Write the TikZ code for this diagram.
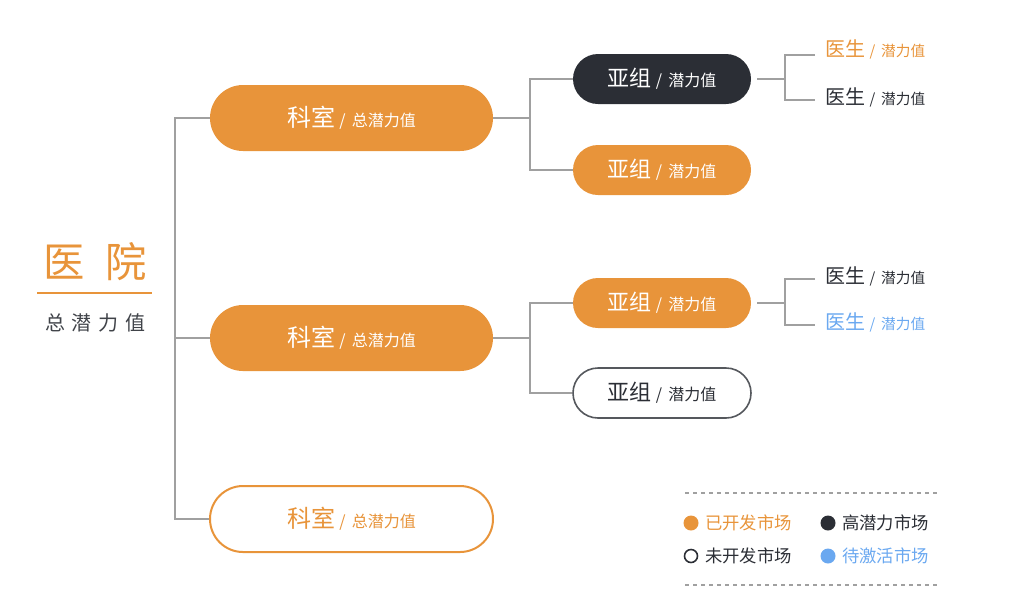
\documentclass[tikz,border=0pt]{standalone}
\usepackage{fontspec}
\setmainfont{Noto Sans CJK SC}
\definecolor{org}{HTML}{E8943A}
\definecolor{drk}{HTML}{2B2E35}
\definecolor{blu}{HTML}{6AA8F0}
\definecolor{gln}{HTML}{A0A0A0}
\begin{document}
\begin{tikzpicture}[x=0.75pt,y=-0.75pt,
  ln/.style={draw=gln,line width=1.2pt},
  big/.style={rounded corners=33*0.75pt,minimum width=283*0.75pt,minimum height=66*0.75pt,inner sep=0pt},
  sub/.style={rounded corners=25*0.75pt,minimum width=178*0.75pt,minimum height=50*0.75pt,inner sep=0pt},
  leaf/.style={anchor=west,inner sep=0pt}]
\useasboundingbox (0,0) rectangle (1019,612);
% title
\node (h) at (95,262) {\fontsize{31}{33}\selectfont\color{org}医\,\,\,院};
\draw[org,line width=1.2pt] (37,293) -- (152,293);
\node (t) at (95,323) {\fontsize{15}{17}\selectfont\color{drk!90}总\,\,潜\,\,力\,\,值};
% big pills
\newcommand{\kstext}[1]{{\fontsize{18}{20}\selectfont\color{#1}科室}\,\,{\fontsize{12}{13}\selectfont\color{#1}/\, 总潜力值}}
\node[big,fill=org] (k1) at (351.5,118) {\kstext{white}};
\node[big,fill=org] (k2) at (351.5,338) {\kstext{white}};
\node[big,fill=white,draw=org,line width=1.5pt] (k3) at (351.5,519) {\kstext{org}};
\coordinate (tv) at (175,118);
\draw[ln] (k1.west) -- (tv) -- (175,519) -- (k3.west);
\draw[ln] (175,338) -- (k2.west);
% sub pills
\newcommand{\yztext}[1]{{\fontsize{16.5}{18}\selectfont\color{#1}亚组}\,\,{\fontsize{12}{13}\selectfont\color{#1}/\, 潜力值}}
\node[sub,fill=drk] (s1) at (662,79) {\yztext{white}};
\node[sub,fill=org] (s2) at (662,170) {\yztext{white}};
\node[sub,fill=org] (s3) at (662,303) {\yztext{white}};
\node[sub,fill=white,draw=drk!80,line width=1.2pt] (s4) at (662,393) {\yztext{drk}};
\draw[ln] (k1.east) -- (530,118);
\draw[ln] (s1.west) -- (530,79) -- (530,170) -- (s2.west);
\draw[ln] (k2.east) -- (530,338);
\draw[ln] (s3.west) -- (530,303) -- (530,393) -- (s4.west);
% leaves
\newcommand{\ystext}[1]{{\fontsize{15}{17}\selectfont\color{#1}医生}\,\,{\fontsize{11}{12}\selectfont\color{#1}/\, 潜力值}}
\node[leaf] (l1) at (825,49) {\ystext{org}};
\node[leaf] (l2) at (825,97) {\ystext{drk}};
\node[leaf] (l3) at (825,276) {\ystext{drk}};
\node[leaf] (l4) at (825,322) {\ystext{blu}};
\draw[ln] (s1.east) ++(6,0) -- (785,79);
\draw[ln] (815,55) -- (785,55) -- (785,100) -- (815,100);
\draw[ln] (s3.east) ++(6,0) -- (785,303);
\draw[ln] (815,279) -- (785,279) -- (785,325) -- (815,325);
% legend
\draw[gln,dashed,line width=1pt] (685,493) -- (937,493);
\draw[gln,dashed,line width=1pt] (685,585) -- (937,585);
\fill[org] (691,523) circle (7.5);
\node[leaf] (g1) at (705,523) {\fontsize{13}{15}\selectfont\color{org}已开发市场};
\fill[drk] (828,523) circle (7.5);
\node[leaf] (g2) at (842,523) {\fontsize{13}{15}\selectfont\color{drk}高潜力市场};
\draw[drk,line width=1.2pt] (691,556) circle (6.5);
\node[leaf] (g3) at (705,556) {\fontsize{13}{15}\selectfont\color{drk}未开发市场};
\fill[blu] (828,556) circle (7.5);
\node[leaf] (g4) at (842,556) {\fontsize{13}{15}\selectfont\color{blu}待激活市场};
\end{tikzpicture}
\end{document}
